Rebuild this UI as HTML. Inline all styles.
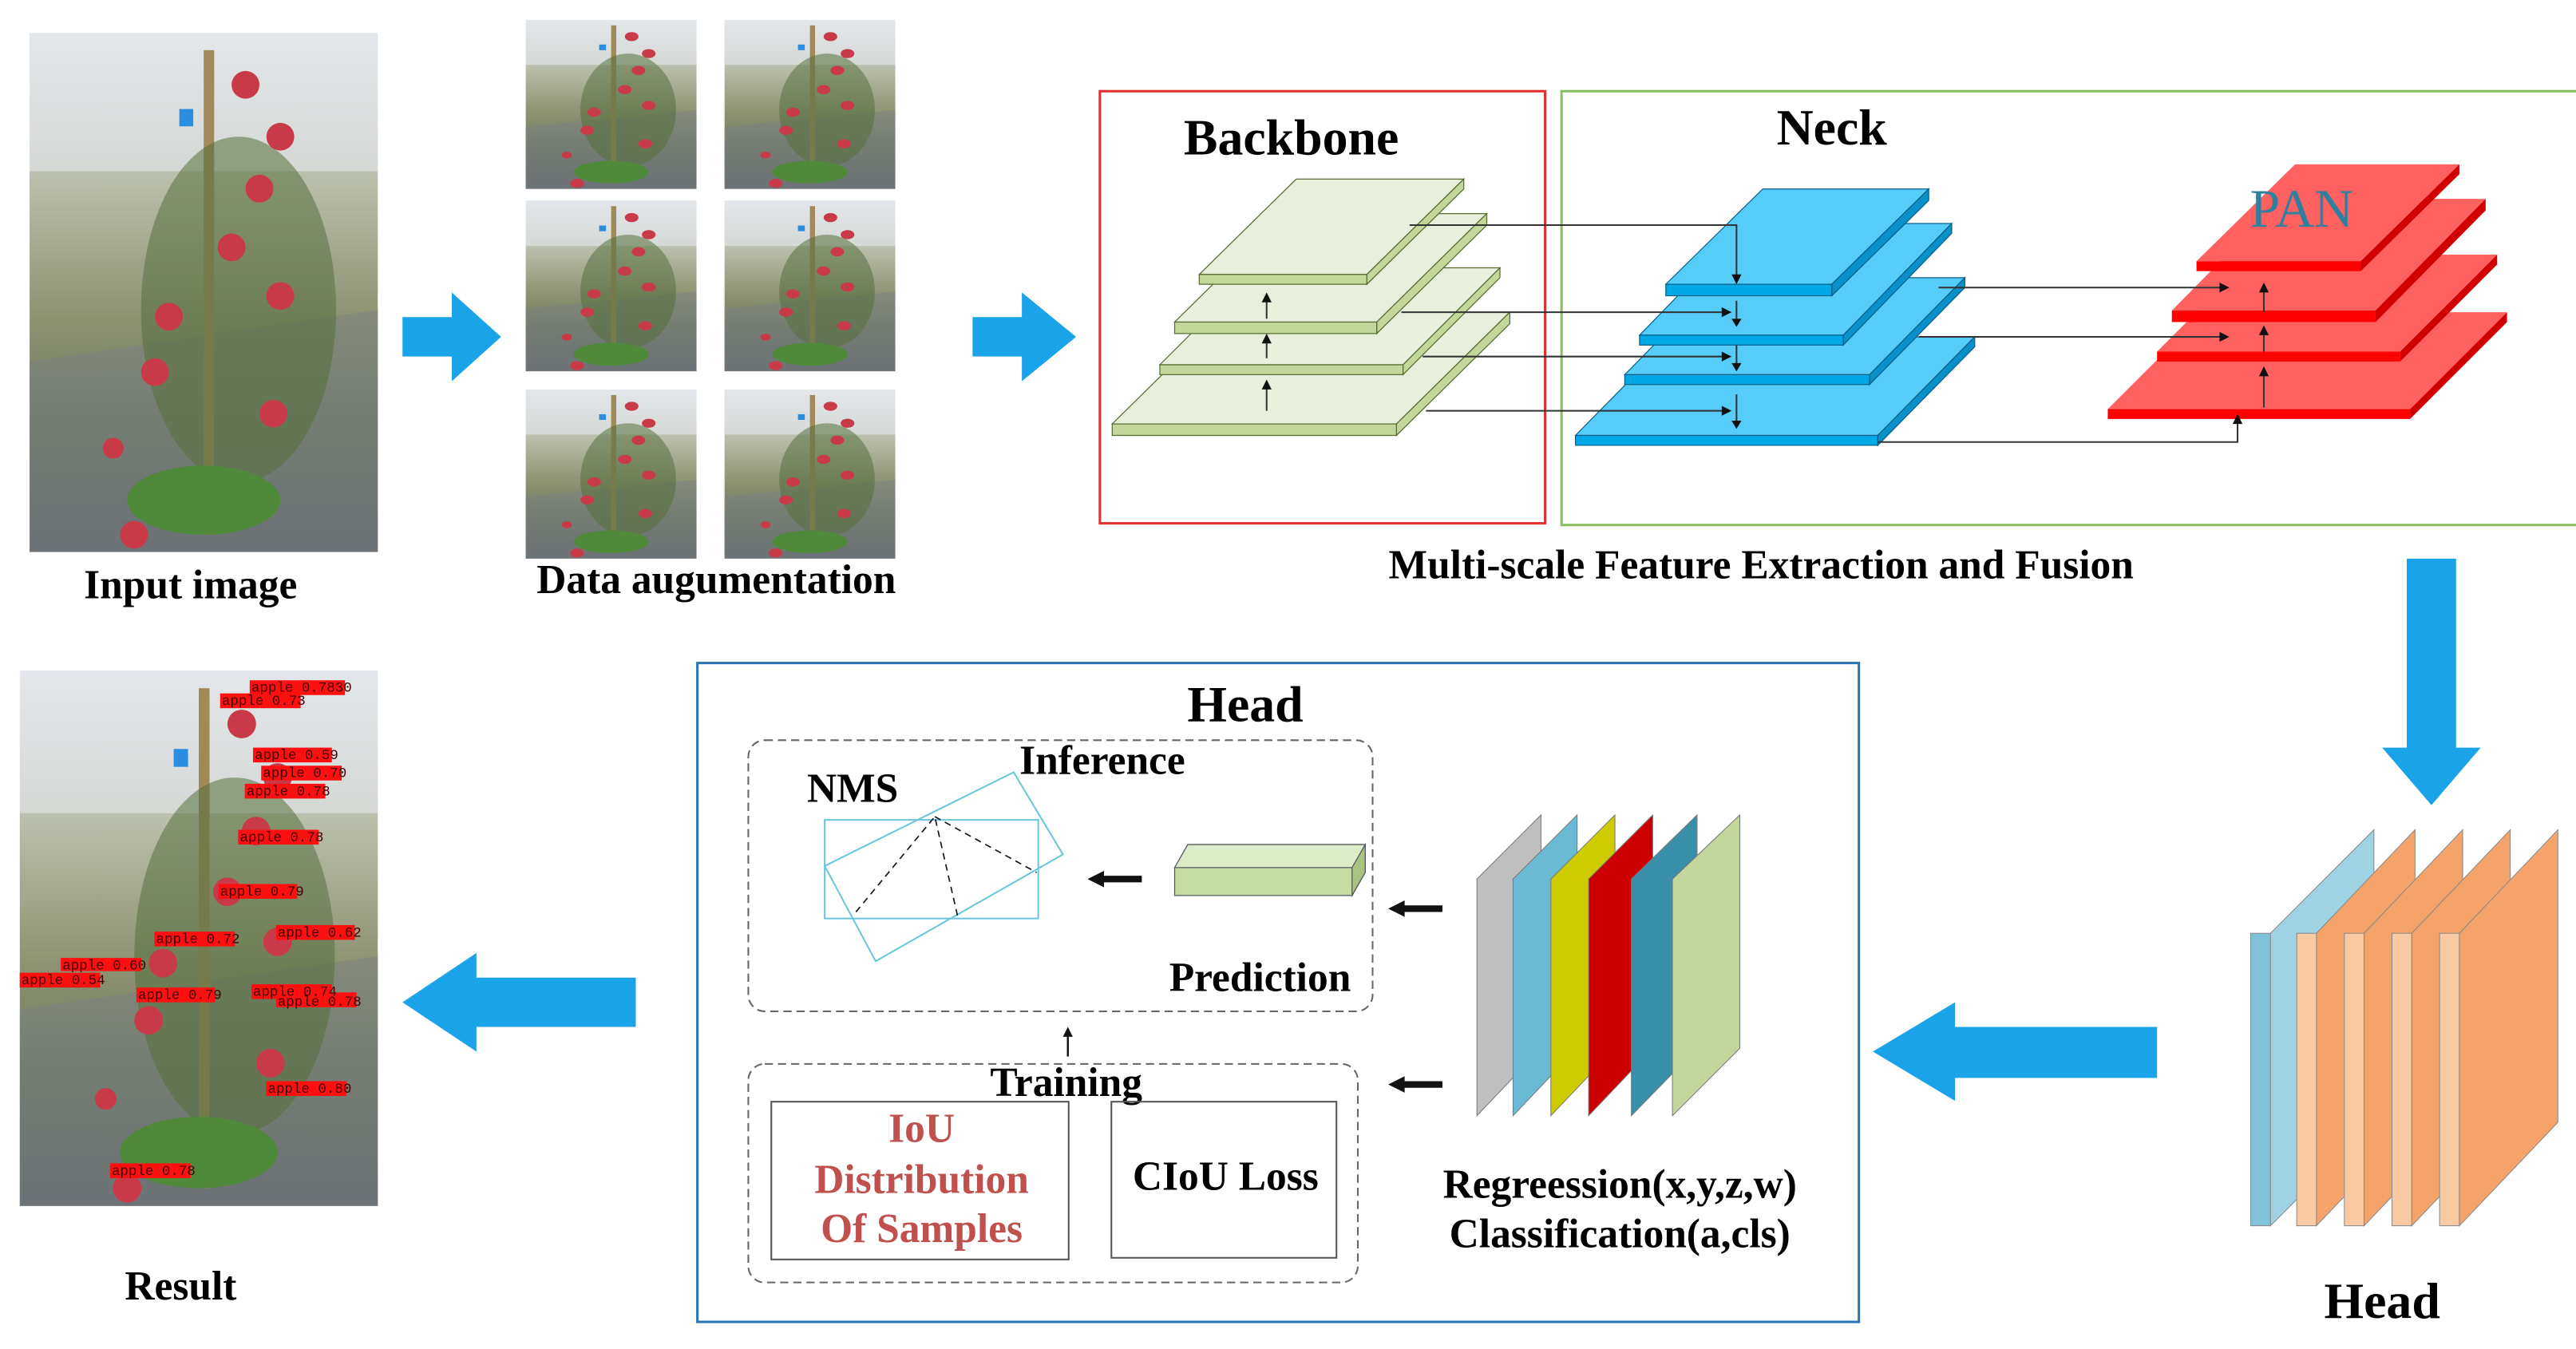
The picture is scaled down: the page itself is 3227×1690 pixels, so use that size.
<!DOCTYPE html>
<html><head><meta charset="utf-8"><style>
html,body{margin:0;padding:0;background:#fff;}
svg{display:block;}
text{font-family:"Liberation Serif",serif;font-weight:bold;}
</style></head><body>
<svg width="3227" height="1690" viewBox="0 0 1568 821" preserveAspectRatio="none" xmlns="http://www.w3.org/2000/svg">
<defs>
<linearGradient id="ph" x1="0" y1="0" x2="0" y2="1">
<stop offset="0" stop-color="#dfe3e6"/><stop offset="0.3" stop-color="#b7bba8"/><stop offset="0.55" stop-color="#8d9272"/><stop offset="0.75" stop-color="#6f7a62"/><stop offset="1" stop-color="#5e6468"/></linearGradient>
<symbol id="photo" viewBox="0 0 100 150" preserveAspectRatio="none">
<rect width="100" height="150" fill="url(#ph)"/>
<rect x="0" y="0" width="100" height="40" fill="#e6eaee" opacity="0.6"/>
<path d="M0 95 L100 80 L100 150 L0 150Z" fill="#7a7f84" opacity="0.5"/>
<rect x="50" y="5" width="3" height="140" fill="#a08a5a"/>
<ellipse cx="60" cy="80" rx="28" ry="50" fill="#55703c" opacity="0.55"/>
<ellipse cx="50" cy="135" rx="22" ry="10" fill="#4f8a3a"/>
<circle cx="62" cy="15" r="4" fill="#c83a48"/><circle cx="72" cy="30" r="4" fill="#c83a48"/>
<circle cx="66" cy="45" r="4" fill="#c83a48"/><circle cx="58" cy="62" r="4" fill="#c83a48"/>
<circle cx="72" cy="76" r="4" fill="#c83a48"/><circle cx="40" cy="82" r="4" fill="#c83a48"/>
<circle cx="36" cy="98" r="4" fill="#c83a48"/><circle cx="70" cy="110" r="4" fill="#c83a48"/>
<circle cx="30" cy="145" r="4" fill="#c83a48"/><circle cx="24" cy="120" r="3" fill="#c83a48"/>
<rect x="43" y="22" width="4" height="5" fill="#2a8ee0"/>
</symbol>
</defs>

<use href="#photo" x="18" y="20" width="212" height="316"/>
<text x="116" y="364" font-size="25" text-anchor="middle">Input image</text>

<polygon points="245,193 275,193 275,178 305,205 275,232 275,217 245,217" fill="#1aa3e8"/>

<use href="#photo" x="320" y="12" width="104" height="103"/>
<use href="#photo" x="441" y="12" width="104" height="103"/>
<use href="#photo" x="320" y="122" width="104" height="104"/>
<use href="#photo" x="441" y="122" width="104" height="104"/>
<use href="#photo" x="320" y="237" width="104" height="103"/>
<use href="#photo" x="441" y="237" width="104" height="103"/>
<text x="436" y="361" font-size="25" text-anchor="middle">Data augumentation</text>

<polygon points="592,193 622,193 622,178 655,205 622,232 622,217 592,217" fill="#1aa3e8"/>

<rect x="669.5" y="55.5" width="271" height="263" fill="none" stroke="#e03030" stroke-width="1.5"/>
<rect x="950.5" y="55.5" width="877" height="264" fill="none" stroke="#8cc060" stroke-width="1.5"/>
<text x="786" y="94" font-size="31" text-anchor="middle">Backbone</text>
<text x="1115" y="88" font-size="31" text-anchor="middle">Neck</text>
<text x="1072" y="352" font-size="25" text-anchor="middle">Multi-scale Feature Extraction and Fusion</text>

<g stroke="#556b2f" stroke-width="0.6">
<polygon points="677,258 850,258 919,190 746,190" fill="#e9efdd"/><polygon points="850,258 850,265 919,197 919,190" fill="#c4d79b"/><rect x="677" y="258" width="173" height="7" fill="#c4d79b"/>
<polygon points="706,222 854,222 913,163 765,163" fill="#e9efdd"/><polygon points="854,222 854,228 913,169 913,163" fill="#c4d79b"/><rect x="706" y="222" width="148" height="6" fill="#c4d79b"/>
<polygon points="715,196 838,196 905,130 782,130" fill="#e9efdd"/><polygon points="838,196 838,203 905,137 905,130" fill="#c4d79b"/><rect x="715" y="196" width="123" height="7" fill="#c4d79b"/>
<polygon points="730,167 832,167 891,109 789,109" fill="#e9efdd"/><polygon points="832,167 832,173 891,115 891,109" fill="#c4d79b"/><rect x="730" y="167" width="102" height="6" fill="#c4d79b"/>
</g>

<g stroke="#0a5f8a" stroke-width="0.6">
<polygon points="959,265 1143,265 1202,205 1018,205" fill="#55cdf8"/><polygon points="1143,265 1143,271 1202,211 1202,205" fill="#0a90c8"/><rect x="959" y="265" width="184" height="6" fill="#00a8e6"/>
<polygon points="989,228 1138,228 1196,169 1047,169" fill="#55cdf8"/><polygon points="1138,228 1138,234 1196,175 1196,169" fill="#0a90c8"/><rect x="989" y="228" width="149" height="6" fill="#00a8e6"/>
<polygon points="998,204 1122,204 1188,136 1064,136" fill="#55cdf8"/><polygon points="1122,204 1122,210 1188,142 1188,136" fill="#0a90c8"/><rect x="998" y="204" width="124" height="6" fill="#00a8e6"/>
<polygon points="1014,173 1115,173 1174,115 1073,115" fill="#55cdf8"/><polygon points="1115,173 1115,180 1174,122 1174,115" fill="#0a90c8"/><rect x="1014" y="173" width="101" height="7" fill="#00a8e6"/>
</g>

<g>
<polygon points="1283,249 1467,249 1526,190 1342,190" fill="#ff6060"/><polygon points="1467,249 1467,255 1526,196 1526,190" fill="#d00000"/><rect x="1283" y="249" width="184" height="6" fill="#ff0000"/>
<polygon points="1313,214 1461,214 1520,155 1372,155" fill="#ff6060"/><polygon points="1461,214 1461,220 1520,161 1520,155" fill="#d00000"/><rect x="1313" y="214" width="148" height="6" fill="#ff0000"/>
<polygon points="1322,189 1446,189 1513,121 1389,121" fill="#ff6060"/><polygon points="1446,189 1446,196 1513,128 1513,121" fill="#d00000"/><rect x="1322" y="189" width="124" height="7" fill="#ff0000"/>
<polygon points="1337,159 1437,159 1497,100 1397,100" fill="#ff6060"/><polygon points="1437,159 1437,165 1497,106 1497,100" fill="#d00000"/><rect x="1337" y="159" width="100" height="6" fill="#ff0000"/>
</g>
<text x="1401" y="138" font-size="33" fill="#2f7f9e" text-anchor="middle" style="font-weight:normal">PAN</text>

<g stroke="#333" stroke-width="1" fill="none">
<polyline points="858,137 1057,137 1057,168"/>
<line x1="853" y1="190" x2="1048" y2="190"/>
<line x1="866" y1="217" x2="1048" y2="217"/>
<line x1="868" y1="250" x2="1048" y2="250"/>
<line x1="1057" y1="183" x2="1057" y2="195"/><line x1="1057" y1="210" x2="1057" y2="222"/><line x1="1057" y1="240" x2="1057" y2="257"/>
<line x1="1180" y1="175" x2="1352" y2="175"/>
<line x1="1168" y1="205" x2="1352" y2="205"/>
<polyline points="1143,269 1362,269 1362,257"/>
<line x1="771" y1="183" x2="771" y2="194"/><line x1="771" y1="208" x2="771" y2="218"/><line x1="771" y1="236" x2="771" y2="250"/>
<line x1="1378" y1="177" x2="1378" y2="190"/><line x1="1378" y1="203" x2="1378" y2="214"/><line x1="1378" y1="228" x2="1378" y2="248"/>
</g>
<g fill="#111">
<polygon points="1054,167 1060,167 1057,173"/>
<polygon points="1048,187 1048,193 1054,190"/><polygon points="1048,214 1048,220 1054,217"/><polygon points="1048,247 1048,253 1054,250"/>
<polygon points="1054,194 1060,194 1057,199"/><polygon points="1054,221 1060,221 1057,226"/><polygon points="1054,256 1060,256 1057,261"/>
<polygon points="1351,172 1351,178 1357,175"/><polygon points="1351,202 1351,208 1357,205"/>
<polygon points="1359,258 1365,258 1362,252"/>
<polygon points="768,184 774,184 771,178"/><polygon points="768,209 774,209 771,203"/><polygon points="768,237 774,237 771,231"/>
<polygon points="1375,178 1381,178 1378,172"/><polygon points="1375,204 1381,204 1378,198"/><polygon points="1375,229 1381,229 1378,223"/>
</g>

<polygon points="1465,340 1495,340 1495,455 1510,455 1480,490 1450,455 1465,455" fill="#1aa3e8"/>

<g stroke="#888" stroke-width="0.5">
<polygon points="1382,568 1445,505 1445,683 1382,746" fill="#9fd3e3"/><rect x="1370" y="568" width="12" height="178" fill="#7fc3d8"/>
<polygon points="1410,568 1470,505 1470,683 1410,746" fill="#f4a46a"/><rect x="1398" y="568" width="12" height="178" fill="#f9c9a2"/>
<polygon points="1439,568 1499,505 1499,683 1439,746" fill="#f4a46a"/><rect x="1427" y="568" width="12" height="178" fill="#f9c9a2"/>
<polygon points="1468,568 1528,505 1528,683 1468,746" fill="#f4a46a"/><rect x="1456" y="568" width="12" height="178" fill="#f9c9a2"/>
<polygon points="1497,568 1557,505 1557,683 1497,746" fill="#f4a46a"/><rect x="1485" y="568" width="12" height="178" fill="#f9c9a2"/>
</g>
<text x="1450" y="802" font-size="31" text-anchor="middle">Head</text>

<polygon points="1313,625 1190,625 1190,610 1140,640 1190,670 1190,656 1313,656" fill="#1aa3e8"/>

<rect x="424.5" y="403.5" width="707" height="401" fill="none" stroke="#2e75b6" stroke-width="1.5"/>
<text x="758" y="439" font-size="31" text-anchor="middle">Head</text>

<rect x="455.5" y="450.5" width="380" height="165" rx="10" fill="none" stroke="#666" stroke-width="1" stroke-dasharray="5,3"/>
<text x="671" y="471" font-size="25" text-anchor="middle">Inference</text>
<text x="519" y="488" font-size="25" text-anchor="middle">NMS</text>
<g stroke="#6cc6dc" stroke-width="1" fill="none">
<rect x="502" y="499" width="130" height="60"/>
<polygon points="502,527 617,470 647,520 533,585"/>
</g>
<g stroke="#111" stroke-width="0.8" stroke-dasharray="4,3" fill="none">
<polyline points="521,555 569,497 583,558"/><line x1="569" y1="497" x2="631" y2="531"/>
</g>
<polygon points="715,528 723,514 831,514 831,531 823,545 715,545" fill="#c5dca0" stroke="#556" stroke-width="0.6"/>
<polygon points="715,528 723,514 831,514 823,528" fill="#dcebc8" stroke="#556" stroke-width="0.6"/>
<polygon points="823,528 831,514 831,531 823,545" fill="#a9c47f" stroke="#556" stroke-width="0.6"/>
<text x="767" y="603" font-size="25" text-anchor="middle">Prediction</text>
<polygon points="695,533 672,533 672,530 662,535 672,540 672,537 695,537" fill="#111"/>

<line x1="650" y1="643" x2="650" y2="630" stroke="#111" stroke-width="1.2"/><polygon points="647,631 653,631 650,625" fill="#111"/>

<rect x="455.5" y="647.5" width="371" height="133" rx="10" fill="none" stroke="#666" stroke-width="1" stroke-dasharray="5,3"/>
<text x="649" y="667" font-size="25" text-anchor="middle">Training</text>
<rect x="469.5" y="670.5" width="181" height="96" fill="none" stroke="#555" stroke-width="1"/>
<rect x="676.5" y="670.5" width="137" height="95" fill="none" stroke="#555" stroke-width="1"/>
<g fill="#c0504d" font-size="25" text-anchor="middle">
<text x="561" y="695">IoU</text><text x="561" y="726">Distribution</text><text x="561" y="756">Of Samples</text>
</g>
<text x="746" y="724" font-size="25" text-anchor="middle">CIoU Loss</text>

<g fill="#111">
<polygon points="878,551 855,551 855,548 845,553 855,558 855,555 878,555"/>
<polygon points="878,658 855,658 855,655 845,660 855,665 855,662 878,662"/>
</g>

<g stroke="#777" stroke-width="0.5">
<polygon points="899,535 938,496 938,638 899,679" fill="#bfbfbf"/>
<polygon points="921,535 960,496 960,638 921,679" fill="#6bbad3"/>
<polygon points="944,535 983,496 983,638 944,679" fill="#cccc00"/>
<polygon points="967,535 1006,496 1006,638 967,679" fill="#cc0000"/>
<polygon points="993,535 1033,496 1033,638 993,679" fill="#3a8fab"/>
<polygon points="1018,535 1059,496 1059,638 1018,679" fill="#c3d69b"/>
</g>
<text x="986" y="729" font-size="25" text-anchor="middle">Regreession(x,y,z,w)</text>
<text x="986" y="759" font-size="25" text-anchor="middle">Classification(a,cls)</text>

<polygon points="387,595 290,595 290,580 245,610 290,640 290,625 387,625" fill="#1aa3e8"/>

<use href="#photo" x="12" y="408" width="218" height="326"/>
<g fill="#ff1010">
<rect x="152" y="414" width="58" height="9"/><rect x="134" y="422" width="49" height="9"/>
<rect x="154" y="455" width="48" height="9"/><rect x="159" y="466" width="49" height="9"/>
<rect x="149" y="477" width="49" height="9"/><rect x="145" y="505" width="49" height="9"/>
<rect x="133" y="538" width="48" height="9"/><rect x="168" y="563" width="48" height="9"/>
<rect x="94" y="567" width="49" height="9"/><rect x="37" y="583" width="49" height="8"/>
<rect x="12" y="592" width="49" height="9"/><rect x="83" y="601" width="48" height="9"/>
<rect x="153" y="599" width="49" height="9"/><rect x="168" y="604" width="49" height="9"/>
<rect x="162" y="658" width="49" height="9"/><rect x="67" y="708" width="49" height="9"/>
</g>
<g font-size="8.5" fill="#400">
<text x="153" y="421" font-family="Liberation Mono,monospace" style="font-weight:normal;font-family:'Liberation Mono',monospace">apple 0.7830</text>
<text x="135" y="429" style="font-weight:normal;font-family:'Liberation Mono',monospace">apple 0.73</text>
<text x="155" y="462" style="font-weight:normal;font-family:'Liberation Mono',monospace">apple 0.59</text>
<text x="160" y="473" style="font-weight:normal;font-family:'Liberation Mono',monospace">apple 0.70</text>
<text x="150" y="484" style="font-weight:normal;font-family:'Liberation Mono',monospace">apple 0.78</text>
<text x="146" y="512" style="font-weight:normal;font-family:'Liberation Mono',monospace">apple 0.78</text>
<text x="134" y="545" style="font-weight:normal;font-family:'Liberation Mono',monospace">apple 0.79</text>
<text x="169" y="570" style="font-weight:normal;font-family:'Liberation Mono',monospace">apple 0.62</text>
<text x="95" y="574" style="font-weight:normal;font-family:'Liberation Mono',monospace">apple 0.72</text>
<text x="38" y="590" style="font-weight:normal;font-family:'Liberation Mono',monospace">apple 0.60</text>
<text x="13" y="599" style="font-weight:normal;font-family:'Liberation Mono',monospace">apple 0.54</text>
<text x="84" y="608" style="font-weight:normal;font-family:'Liberation Mono',monospace">apple 0.79</text>
<text x="154" y="606" style="font-weight:normal;font-family:'Liberation Mono',monospace">apple 0.74</text>
<text x="169" y="612" style="font-weight:normal;font-family:'Liberation Mono',monospace">apple 0.78</text>
<text x="163" y="665" style="font-weight:normal;font-family:'Liberation Mono',monospace">apple 0.80</text>
<text x="68" y="715" style="font-weight:normal;font-family:'Liberation Mono',monospace">apple 0.78</text>
</g>
<text x="110" y="791" font-size="25" text-anchor="middle">Result</text>
</svg>
</body></html>
